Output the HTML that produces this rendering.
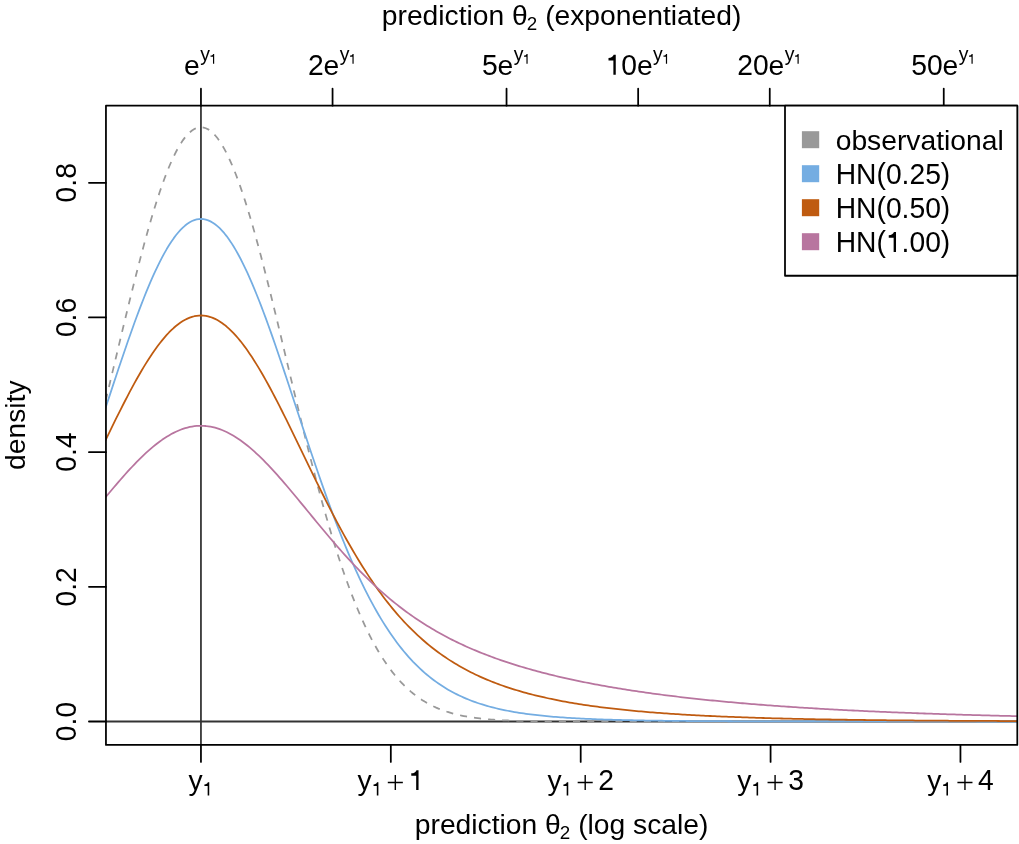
<!DOCTYPE html>
<html><head><meta charset="utf-8"><title>prediction density</title>
<style>html,body{margin:0;padding:0;background:#fff}svg{display:block;will-change:transform}text{font-family:"Liberation Sans",sans-serif;fill:#000}</style></head><body>
<svg width="1019" height="844" viewBox="0 0 1019 844">
<rect width="1019" height="844" fill="#fff"/>
<defs><clipPath id="c"><rect x="105.95" y="105.7" width="911.3499999999999" height="639.25"/></clipPath></defs>
<g clip-path="url(#c)" fill="none">
<line x1="105.95" x2="1017.3" y1="721.5" y2="721.5" stroke="#333333" stroke-width="1.76"/>
<line x1="200.95" x2="200.95" y1="105.7" y2="744.95" stroke="#333333" stroke-width="1.76"/>
<path d="M102.21,414.83 L104.52,405.33 L106.82,395.77 L109.12,386.17 L111.43,376.53 L113.73,366.86 L116.03,357.19 L118.34,347.53 L120.64,337.89 L122.94,328.28 L125.25,318.72 L127.55,309.22 L129.85,299.80 L132.16,290.48 L134.46,281.27 L136.76,272.19 L139.07,263.25 L141.37,254.47 L143.67,245.86 L145.98,237.45 L148.28,229.23 L150.58,221.24 L152.89,213.49 L155.19,205.98 L157.49,198.75 L159.80,191.79 L162.10,185.12 L164.40,178.76 L166.71,172.73 L169.01,167.02 L171.31,161.66 L173.62,156.65 L175.92,152.01 L178.22,147.74 L180.53,143.86 L182.83,140.37 L185.13,137.28 L187.44,134.60 L189.74,132.32 L192.04,130.47 L194.34,129.03 L196.65,128.02 L198.95,127.44 L201.25,127.28 L203.56,127.55 L205.86,128.25 L208.16,129.37 L210.47,130.92 L212.77,132.89 L215.07,135.27 L217.38,138.06 L219.68,141.26 L221.98,144.85 L224.29,148.84 L226.59,153.20 L228.89,157.94 L231.20,163.04 L233.50,168.50 L235.80,174.29 L238.11,180.42 L240.41,186.86 L242.71,193.60 L245.02,200.63 L247.32,207.94 L249.62,215.51 L251.93,223.33 L254.23,231.38 L256.53,239.65 L258.84,248.12 L261.14,256.78 L263.44,265.60 L265.75,274.58 L268.05,283.70 L270.35,292.94 L272.66,302.29 L274.96,311.72 L277.26,321.24 L279.56,330.81 L281.87,340.43 L284.17,350.08 L286.47,359.75 L288.78,369.42 L291.08,379.08 L293.38,388.71 L295.69,398.30 L297.99,407.85 L300.29,417.33 L302.60,426.73 L304.90,436.05 L307.20,445.28 L309.51,454.40 L311.81,463.40 L314.11,472.28 L316.42,481.03 L318.72,489.64 L321.02,498.10 L323.33,506.40 L325.63,514.55 L327.93,522.53 L330.24,530.34 L332.54,537.98 L334.84,545.44 L337.15,552.71 L339.45,559.81 L341.75,566.71 L344.06,573.43 L346.36,579.96 L348.66,586.30 L350.97,592.44 L353.27,598.40 L355.57,604.16 L357.88,609.74 L360.18,615.13 L362.48,620.33 L364.78,625.34 L367.09,630.18 L369.39,634.83 L371.69,639.30 L374.00,643.60 L376.30,647.73 L378.60,651.69 L380.91,655.49 L383.21,659.12 L385.51,662.59 L387.82,665.92 L390.12,669.09 L392.42,672.12 L394.73,675.00 L397.03,677.75 L399.33,680.37 L401.64,682.85 L403.94,685.22 L406.24,687.46 L408.55,689.59 L410.85,691.60 L413.15,693.51 L415.46,695.32 L417.76,697.02 L420.06,698.63 L422.37,700.16 L424.67,701.59 L426.97,702.94 L429.28,704.21 L431.58,705.41 L433.88,706.53 L436.19,707.59 L438.49,708.58 L440.79,709.51 L443.10,710.38 L445.40,711.19 L447.70,711.96 L450.01,712.67 L452.31,713.33 L454.61,713.95 L456.91,714.53 L459.22,715.07 L461.52,715.57 L463.82,716.03 L466.13,716.47 L468.43,716.87 L470.73,717.24 L473.04,717.59 L475.34,717.91 L477.64,718.20 L479.95,718.48 L482.25,718.73 L484.55,718.97 L486.86,719.18 L489.16,719.38 L491.46,719.56 L493.77,719.73 L496.07,719.89 L498.37,720.03 L500.68,720.16 L502.98,720.28 L505.28,720.39 L507.59,720.49 L509.89,720.58 L512.19,720.67 L514.50,720.75 L516.80,720.82 L519.10,720.88 L521.41,720.94 L523.71,720.99 L526.01,721.04 L528.32,721.09 L530.62,721.13 L532.92,721.16 L535.23,721.20 L537.53,721.23 L539.83,721.25 L542.13,721.28 L544.44,721.30 L546.74,721.32 L549.04,721.34 L551.35,721.36 L553.65,721.37 L555.95,721.39 L558.26,721.40 L560.56,721.41 L562.86,721.42 L565.17,721.43 L567.47,721.43 L569.77,721.44 L572.08,721.45 L574.38,721.45 L576.68,721.46 L578.99,721.46 L581.29,721.47 L583.59,721.47 L585.90,721.47 L588.20,721.48 L590.50,721.48 L592.81,721.48 L595.11,721.48 L597.41,721.49 L599.72,721.49 L602.02,721.49 L604.32,721.49 L606.63,721.49 L608.93,721.49 L611.23,721.49 L613.54,721.49 L615.84,721.49 L618.14,721.50 L620.45,721.50 L622.75,721.50 L625.05,721.50 L627.36,721.50 L629.66,721.50 L631.96,721.50 L634.26,721.50 L636.57,721.50 L638.87,721.50 L641.17,721.50 L643.48,721.50 L645.78,721.50 L648.08,721.50 L650.39,721.50 L652.69,721.50 L654.99,721.50 L657.30,721.50 L659.60,721.50 L661.90,721.50 L664.21,721.50 L666.51,721.50 L668.81,721.50 L671.12,721.50 L673.42,721.50 L675.72,721.50 L678.03,721.50 L680.33,721.50 L682.63,721.50 L684.94,721.50 L687.24,721.50 L689.54,721.50 L691.85,721.50 L694.15,721.50 L696.45,721.50 L698.76,721.50 L701.06,721.50 L703.36,721.50 L705.67,721.50 L707.97,721.50 L710.27,721.50 L712.58,721.50 L714.88,721.50 L717.18,721.50 L719.48,721.50 L721.79,721.50 L724.09,721.50 L726.39,721.50 L728.70,721.50 L731.00,721.50 L733.30,721.50 L735.61,721.50 L737.91,721.50 L740.21,721.50 L742.52,721.50 L744.82,721.50 L747.12,721.50 L749.43,721.50 L751.73,721.50 L754.03,721.50 L756.34,721.50 L758.64,721.50 L760.94,721.50 L763.25,721.50 L765.55,721.50 L767.85,721.50 L770.16,721.50 L772.46,721.50 L774.76,721.50 L777.07,721.50 L779.37,721.50 L781.67,721.50 L783.98,721.50 L786.28,721.50 L788.58,721.50 L790.89,721.50 L793.19,721.50 L795.49,721.50 L797.80,721.50 L800.10,721.50 L802.40,721.50 L804.70,721.50 L807.01,721.50 L809.31,721.50 L811.61,721.50 L813.92,721.50 L816.22,721.50 L818.52,721.50 L820.83,721.50 L823.13,721.50 L825.43,721.50 L827.74,721.50 L830.04,721.50 L832.34,721.50 L834.65,721.50 L836.95,721.50 L839.25,721.50 L841.56,721.50 L843.86,721.50 L846.16,721.50 L848.47,721.50 L850.77,721.50 L853.07,721.50 L855.38,721.50 L857.68,721.50 L859.98,721.50 L862.29,721.50 L864.59,721.50 L866.89,721.50 L869.20,721.50 L871.50,721.50 L873.80,721.50 L876.11,721.50 L878.41,721.50 L880.71,721.50 L883.02,721.50 L885.32,721.50 L887.62,721.50 L889.92,721.50 L892.23,721.50 L894.53,721.50 L896.83,721.50 L899.14,721.50 L901.44,721.50 L903.74,721.50 L906.05,721.50 L908.35,721.50 L910.65,721.50 L912.96,721.50 L915.26,721.50 L917.56,721.50 L919.87,721.50 L922.17,721.50 L924.47,721.50 L926.78,721.50 L929.08,721.50 L931.38,721.50 L933.69,721.50 L935.99,721.50 L938.29,721.50 L940.60,721.50 L942.90,721.50 L945.20,721.50 L947.51,721.50 L949.81,721.50 L952.11,721.50 L954.42,721.50 L956.72,721.50 L959.02,721.50 L961.33,721.50 L963.63,721.50 L965.93,721.50 L968.24,721.50 L970.54,721.50 L972.84,721.50 L975.15,721.50 L977.45,721.50 L979.75,721.50 L982.05,721.50 L984.36,721.50 L986.66,721.50 L988.96,721.50 L991.27,721.50 L993.57,721.50 L995.87,721.50 L998.18,721.50 L1000.48,721.50 L1002.78,721.50 L1005.09,721.50 L1007.39,721.50 L1009.69,721.50 L1012.00,721.50 L1014.30,721.50 L1016.60,721.50 L1018.91,721.50 L1021.21,721.50" stroke="#999999" stroke-width="1.76" stroke-dasharray="7.08 7.08" stroke-dashoffset="13.79"/>
<path d="M102.21,418.08 L104.52,411.09 L106.82,404.09 L109.12,397.10 L111.43,390.11 L113.73,383.15 L116.03,376.21 L118.34,369.31 L120.64,362.46 L122.94,355.66 L125.25,348.92 L127.55,342.26 L129.85,335.68 L132.16,329.19 L134.46,322.80 L136.76,316.52 L139.07,310.37 L141.37,304.34 L143.67,298.45 L145.98,292.70 L148.28,287.12 L150.58,281.70 L152.89,276.45 L155.19,271.38 L157.49,266.51 L159.80,261.83 L162.10,257.37 L164.40,253.11 L166.71,249.08 L169.01,245.28 L171.31,241.71 L173.62,238.38 L175.92,235.30 L178.22,232.47 L180.53,229.90 L182.83,227.60 L185.13,225.55 L187.44,223.78 L189.74,222.28 L192.04,221.06 L194.34,220.11 L196.65,219.45 L198.95,219.06 L201.25,218.96 L203.56,219.14 L205.86,219.60 L208.16,220.34 L210.47,221.36 L212.77,222.65 L215.07,224.22 L217.38,226.07 L219.68,228.18 L221.98,230.56 L224.29,233.20 L226.59,236.09 L228.89,239.24 L231.20,242.63 L233.50,246.26 L235.80,250.13 L238.11,254.22 L240.41,258.53 L242.71,263.05 L245.02,267.78 L247.32,272.70 L249.62,277.82 L251.93,283.11 L254.23,288.58 L256.53,294.21 L258.84,299.99 L261.14,305.92 L263.44,311.98 L265.75,318.17 L268.05,324.48 L270.35,330.89 L272.66,337.41 L274.96,344.01 L277.26,350.69 L279.56,357.45 L281.87,364.26 L284.17,371.13 L286.47,378.04 L288.78,384.99 L291.08,391.96 L293.38,398.94 L295.69,405.94 L297.99,412.94 L300.29,419.93 L302.60,426.91 L304.90,433.86 L307.20,440.78 L309.51,447.67 L311.81,454.52 L314.11,461.31 L316.42,468.05 L318.72,474.73 L321.02,481.34 L323.33,487.88 L325.63,494.34 L327.93,500.72 L330.24,507.01 L332.54,513.22 L334.84,519.33 L337.15,525.34 L339.45,531.26 L341.75,537.07 L344.06,542.77 L346.36,548.37 L348.66,553.86 L350.97,559.23 L353.27,564.50 L355.57,569.64 L357.88,574.68 L360.18,579.59 L362.48,584.39 L364.78,589.08 L367.09,593.65 L369.39,598.10 L371.69,602.43 L374.00,606.65 L376.30,610.75 L378.60,614.74 L380.91,618.62 L383.21,622.38 L385.51,626.03 L387.82,629.58 L390.12,633.01 L392.42,636.34 L394.73,639.56 L397.03,642.68 L399.33,645.70 L401.64,648.62 L403.94,651.44 L406.24,654.17 L408.55,656.80 L410.85,659.34 L413.15,661.80 L415.46,664.16 L417.76,666.44 L420.06,668.64 L422.37,670.76 L424.67,672.80 L426.97,674.77 L429.28,676.66 L431.58,678.48 L433.88,680.23 L436.19,681.91 L438.49,683.53 L440.79,685.08 L443.10,686.58 L445.40,688.01 L447.70,689.39 L450.01,690.72 L452.31,691.99 L454.61,693.20 L456.91,694.37 L459.22,695.50 L461.52,696.57 L463.82,697.60 L466.13,698.59 L468.43,699.54 L470.73,700.45 L473.04,701.32 L475.34,702.16 L477.64,702.96 L479.95,703.73 L482.25,704.46 L484.55,705.16 L486.86,705.84 L489.16,706.48 L491.46,707.10 L493.77,707.70 L496.07,708.26 L498.37,708.81 L500.68,709.33 L502.98,709.83 L505.28,710.30 L507.59,710.76 L509.89,711.20 L512.19,711.62 L514.50,712.02 L516.80,712.40 L519.10,712.77 L521.41,713.13 L523.71,713.46 L526.01,713.79 L528.32,714.10 L530.62,714.40 L532.92,714.68 L535.23,714.95 L537.53,715.22 L539.83,715.47 L542.13,715.71 L544.44,715.94 L546.74,716.16 L549.04,716.37 L551.35,716.57 L553.65,716.77 L555.95,716.95 L558.26,717.13 L560.56,717.30 L562.86,717.47 L565.17,717.63 L567.47,717.78 L569.77,717.92 L572.08,718.06 L574.38,718.20 L576.68,718.32 L578.99,718.45 L581.29,718.57 L583.59,718.68 L585.90,718.79 L588.20,718.89 L590.50,718.99 L592.81,719.09 L595.11,719.18 L597.41,719.27 L599.72,719.36 L602.02,719.44 L604.32,719.52 L606.63,719.59 L608.93,719.66 L611.23,719.73 L613.54,719.80 L615.84,719.87 L618.14,719.93 L620.45,719.99 L622.75,720.04 L625.05,720.10 L627.36,720.15 L629.66,720.20 L631.96,720.25 L634.26,720.30 L636.57,720.34 L638.87,720.39 L641.17,720.43 L643.48,720.47 L645.78,720.51 L648.08,720.55 L650.39,720.58 L652.69,720.62 L654.99,720.65 L657.30,720.68 L659.60,720.71 L661.90,720.74 L664.21,720.77 L666.51,720.80 L668.81,720.82 L671.12,720.85 L673.42,720.87 L675.72,720.90 L678.03,720.92 L680.33,720.94 L682.63,720.96 L684.94,720.98 L687.24,721.00 L689.54,721.02 L691.85,721.04 L694.15,721.05 L696.45,721.07 L698.76,721.09 L701.06,721.10 L703.36,721.12 L705.67,721.13 L707.97,721.14 L710.27,721.16 L712.58,721.17 L714.88,721.18 L717.18,721.19 L719.48,721.20 L721.79,721.21 L724.09,721.23 L726.39,721.24 L728.70,721.25 L731.00,721.25 L733.30,721.26 L735.61,721.27 L737.91,721.28 L740.21,721.29 L742.52,721.30 L744.82,721.30 L747.12,721.31 L749.43,721.32 L751.73,721.32 L754.03,721.33 L756.34,721.34 L758.64,721.34 L760.94,721.35 L763.25,721.35 L765.55,721.36 L767.85,721.36 L770.16,721.37 L772.46,721.37 L774.76,721.38 L777.07,721.38 L779.37,721.39 L781.67,721.39 L783.98,721.40 L786.28,721.40 L788.58,721.40 L790.89,721.41 L793.19,721.41 L795.49,721.41 L797.80,721.42 L800.10,721.42 L802.40,721.42 L804.70,721.42 L807.01,721.43 L809.31,721.43 L811.61,721.43 L813.92,721.44 L816.22,721.44 L818.52,721.44 L820.83,721.44 L823.13,721.44 L825.43,721.45 L827.74,721.45 L830.04,721.45 L832.34,721.45 L834.65,721.45 L836.95,721.46 L839.25,721.46 L841.56,721.46 L843.86,721.46 L846.16,721.46 L848.47,721.46 L850.77,721.46 L853.07,721.47 L855.38,721.47 L857.68,721.47 L859.98,721.47 L862.29,721.47 L864.59,721.47 L866.89,721.47 L869.20,721.47 L871.50,721.47 L873.80,721.48 L876.11,721.48 L878.41,721.48 L880.71,721.48 L883.02,721.48 L885.32,721.48 L887.62,721.48 L889.92,721.48 L892.23,721.48 L894.53,721.48 L896.83,721.48 L899.14,721.48 L901.44,721.48 L903.74,721.48 L906.05,721.49 L908.35,721.49 L910.65,721.49 L912.96,721.49 L915.26,721.49 L917.56,721.49 L919.87,721.49 L922.17,721.49 L924.47,721.49 L926.78,721.49 L929.08,721.49 L931.38,721.49 L933.69,721.49 L935.99,721.49 L938.29,721.49 L940.60,721.49 L942.90,721.49 L945.20,721.49 L947.51,721.49 L949.81,721.49 L952.11,721.49 L954.42,721.49 L956.72,721.49 L959.02,721.49 L961.33,721.49 L963.63,721.49 L965.93,721.49 L968.24,721.49 L970.54,721.49 L972.84,721.49 L975.15,721.49 L977.45,721.50 L979.75,721.50 L982.05,721.50 L984.36,721.50 L986.66,721.50 L988.96,721.50 L991.27,721.50 L993.57,721.50 L995.87,721.50 L998.18,721.50 L1000.48,721.50 L1002.78,721.50 L1005.09,721.50 L1007.39,721.50 L1009.69,721.50 L1012.00,721.50 L1014.30,721.50 L1016.60,721.50 L1018.91,721.50 L1021.21,721.50" stroke="#74ADE2" stroke-width="1.76" stroke-linejoin="round"/>
<path d="M102.21,447.07 L104.52,442.30 L106.82,437.55 L109.12,432.81 L111.43,428.09 L113.73,423.39 L116.03,418.73 L118.34,414.10 L120.64,409.52 L122.94,404.98 L125.25,400.49 L127.55,396.06 L129.85,391.69 L132.16,387.40 L134.46,383.18 L136.76,379.03 L139.07,374.98 L141.37,371.01 L143.67,367.15 L145.98,363.38 L148.28,359.72 L150.58,356.18 L152.89,352.75 L155.19,349.45 L157.49,346.28 L159.80,343.23 L162.10,340.33 L164.40,337.57 L166.71,334.95 L169.01,332.49 L171.31,330.18 L173.62,328.02 L175.92,326.03 L178.22,324.20 L180.53,322.54 L182.83,321.05 L185.13,319.73 L187.44,318.59 L189.74,317.62 L192.04,316.84 L194.34,316.23 L196.65,315.80 L198.95,315.55 L201.25,315.48 L203.56,315.60 L205.86,315.89 L208.16,316.37 L210.47,317.03 L212.77,317.86 L215.07,318.88 L217.38,320.07 L219.68,321.43 L221.98,322.97 L224.29,324.67 L226.59,326.54 L228.89,328.58 L231.20,330.77 L233.50,333.12 L235.80,335.63 L238.11,338.28 L240.41,341.08 L242.71,344.03 L245.02,347.10 L247.32,350.31 L249.62,353.65 L251.93,357.11 L254.23,360.68 L256.53,364.37 L258.84,368.16 L261.14,372.05 L263.44,376.04 L265.75,380.12 L268.05,384.28 L270.35,388.53 L272.66,392.84 L274.96,397.23 L277.26,401.67 L279.56,406.17 L281.87,410.73 L284.17,415.32 L286.47,419.96 L288.78,424.63 L291.08,429.33 L293.38,434.06 L295.69,438.80 L297.99,443.56 L300.29,448.33 L302.60,453.10 L304.90,457.87 L307.20,462.63 L309.51,467.39 L311.81,472.13 L314.11,476.86 L316.42,481.56 L318.72,486.23 L321.02,490.88 L323.33,495.50 L325.63,500.07 L327.93,504.61 L330.24,509.11 L332.54,513.57 L334.84,517.97 L337.15,522.33 L339.45,526.63 L341.75,530.88 L344.06,535.08 L346.36,539.21 L348.66,543.29 L350.97,547.31 L353.27,551.26 L355.57,555.15 L357.88,558.98 L360.18,562.74 L362.48,566.43 L364.78,570.06 L367.09,573.63 L369.39,577.12 L371.69,580.55 L374.00,583.91 L376.30,587.20 L378.60,590.42 L380.91,593.58 L383.21,596.67 L385.51,599.69 L387.82,602.65 L390.12,605.54 L392.42,608.37 L394.73,611.13 L397.03,613.82 L399.33,616.46 L401.64,619.03 L403.94,621.54 L406.24,623.99 L408.55,626.38 L410.85,628.71 L413.15,630.98 L415.46,633.20 L417.76,635.36 L420.06,637.46 L422.37,639.51 L424.67,641.51 L426.97,643.46 L429.28,645.36 L431.58,647.21 L433.88,649.01 L436.19,650.77 L438.49,652.48 L440.79,654.14 L443.10,655.76 L445.40,657.34 L447.70,658.87 L450.01,660.37 L452.31,661.82 L454.61,663.24 L456.91,664.62 L459.22,665.97 L461.52,667.27 L463.82,668.55 L466.13,669.79 L468.43,671.00 L470.73,672.17 L473.04,673.32 L475.34,674.44 L477.64,675.52 L479.95,676.58 L482.25,677.61 L484.55,678.62 L486.86,679.60 L489.16,680.55 L491.46,681.48 L493.77,682.38 L496.07,683.27 L498.37,684.12 L500.68,684.96 L502.98,685.78 L505.28,686.58 L507.59,687.35 L509.89,688.11 L512.19,688.85 L514.50,689.57 L516.80,690.27 L519.10,690.96 L521.41,691.62 L523.71,692.28 L526.01,692.91 L528.32,693.53 L530.62,694.14 L532.92,694.73 L535.23,695.31 L537.53,695.87 L539.83,696.42 L542.13,696.96 L544.44,697.48 L546.74,697.99 L549.04,698.49 L551.35,698.98 L553.65,699.46 L555.95,699.93 L558.26,700.38 L560.56,700.83 L562.86,701.26 L565.17,701.69 L567.47,702.10 L569.77,702.51 L572.08,702.90 L574.38,703.29 L576.68,703.67 L578.99,704.04 L581.29,704.40 L583.59,704.76 L585.90,705.10 L588.20,705.44 L590.50,705.77 L592.81,706.10 L595.11,706.41 L597.41,706.72 L599.72,707.02 L602.02,707.32 L604.32,707.61 L606.63,707.89 L608.93,708.17 L611.23,708.44 L613.54,708.71 L615.84,708.97 L618.14,709.22 L620.45,709.47 L622.75,709.72 L625.05,709.95 L627.36,710.19 L629.66,710.41 L631.96,710.64 L634.26,710.86 L636.57,711.07 L638.87,711.28 L641.17,711.49 L643.48,711.69 L645.78,711.88 L648.08,712.08 L650.39,712.26 L652.69,712.45 L654.99,712.63 L657.30,712.81 L659.60,712.98 L661.90,713.15 L664.21,713.31 L666.51,713.48 L668.81,713.64 L671.12,713.79 L673.42,713.94 L675.72,714.09 L678.03,714.24 L680.33,714.38 L682.63,714.52 L684.94,714.66 L687.24,714.80 L689.54,714.93 L691.85,715.06 L694.15,715.19 L696.45,715.31 L698.76,715.43 L701.06,715.55 L703.36,715.67 L705.67,715.78 L707.97,715.89 L710.27,716.00 L712.58,716.11 L714.88,716.22 L717.18,716.32 L719.48,716.42 L721.79,716.52 L724.09,716.62 L726.39,716.71 L728.70,716.80 L731.00,716.90 L733.30,716.99 L735.61,717.07 L737.91,717.16 L740.21,717.24 L742.52,717.33 L744.82,717.41 L747.12,717.49 L749.43,717.56 L751.73,717.64 L754.03,717.71 L756.34,717.79 L758.64,717.86 L760.94,717.93 L763.25,718.00 L765.55,718.07 L767.85,718.13 L770.16,718.20 L772.46,718.26 L774.76,718.32 L777.07,718.38 L779.37,718.44 L781.67,718.50 L783.98,718.56 L786.28,718.62 L788.58,718.67 L790.89,718.73 L793.19,718.78 L795.49,718.83 L797.80,718.88 L800.10,718.93 L802.40,718.98 L804.70,719.03 L807.01,719.08 L809.31,719.12 L811.61,719.17 L813.92,719.21 L816.22,719.26 L818.52,719.30 L820.83,719.34 L823.13,719.38 L825.43,719.42 L827.74,719.46 L830.04,719.50 L832.34,719.54 L834.65,719.58 L836.95,719.61 L839.25,719.65 L841.56,719.68 L843.86,719.72 L846.16,719.75 L848.47,719.79 L850.77,719.82 L853.07,719.85 L855.38,719.88 L857.68,719.91 L859.98,719.94 L862.29,719.97 L864.59,720.00 L866.89,720.03 L869.20,720.06 L871.50,720.08 L873.80,720.11 L876.11,720.14 L878.41,720.16 L880.71,720.19 L883.02,720.21 L885.32,720.24 L887.62,720.26 L889.92,720.28 L892.23,720.31 L894.53,720.33 L896.83,720.35 L899.14,720.37 L901.44,720.39 L903.74,720.42 L906.05,720.44 L908.35,720.46 L910.65,720.48 L912.96,720.49 L915.26,720.51 L917.56,720.53 L919.87,720.55 L922.17,720.57 L924.47,720.59 L926.78,720.60 L929.08,720.62 L931.38,720.64 L933.69,720.65 L935.99,720.67 L938.29,720.68 L940.60,720.70 L942.90,720.71 L945.20,720.73 L947.51,720.74 L949.81,720.76 L952.11,720.77 L954.42,720.78 L956.72,720.80 L959.02,720.81 L961.33,720.82 L963.63,720.84 L965.93,720.85 L968.24,720.86 L970.54,720.87 L972.84,720.88 L975.15,720.90 L977.45,720.91 L979.75,720.92 L982.05,720.93 L984.36,720.94 L986.66,720.95 L988.96,720.96 L991.27,720.97 L993.57,720.98 L995.87,720.99 L998.18,721.00 L1000.48,721.01 L1002.78,721.02 L1005.09,721.03 L1007.39,721.04 L1009.69,721.04 L1012.00,721.05 L1014.30,721.06 L1016.60,721.07 L1018.91,721.08 L1021.21,721.09" stroke="#BF5B10" stroke-width="1.76" stroke-linejoin="round"/>
<path d="M102.21,501.34 L104.52,498.55 L106.82,495.77 L109.12,493.00 L111.43,490.25 L113.73,487.53 L116.03,484.82 L118.34,482.14 L120.64,479.48 L122.94,476.86 L125.25,474.27 L127.55,471.71 L129.85,469.20 L132.16,466.73 L134.46,464.31 L136.76,461.93 L139.07,459.61 L141.37,457.34 L143.67,455.13 L145.98,452.97 L148.28,450.89 L150.58,448.87 L152.89,446.91 L155.19,445.03 L157.49,443.23 L159.80,441.50 L162.10,439.85 L164.40,438.28 L166.71,436.79 L169.01,435.40 L171.31,434.09 L173.62,432.86 L175.92,431.74 L178.22,430.70 L180.53,429.76 L182.83,428.92 L185.13,428.17 L187.44,427.53 L189.74,426.98 L192.04,426.53 L194.34,426.19 L196.65,425.95 L198.95,425.81 L201.25,425.77 L203.56,425.83 L205.86,426.00 L208.16,426.27 L210.47,426.64 L212.77,427.11 L215.07,427.69 L217.38,428.36 L219.68,429.13 L221.98,430.00 L224.29,430.97 L226.59,432.03 L228.89,433.18 L231.20,434.42 L233.50,435.76 L235.80,437.18 L238.11,438.69 L240.41,440.28 L242.71,441.95 L245.02,443.70 L247.32,445.52 L249.62,447.42 L251.93,449.39 L254.23,451.43 L256.53,453.54 L258.84,455.70 L261.14,457.93 L263.44,460.22 L265.75,462.55 L268.05,464.94 L270.35,467.38 L272.66,469.86 L274.96,472.39 L277.26,474.95 L279.56,477.55 L281.87,480.18 L284.17,482.84 L286.47,485.53 L288.78,488.24 L291.08,490.98 L293.38,493.73 L295.69,496.50 L297.99,499.28 L300.29,502.08 L302.60,504.87 L304.90,507.68 L307.20,510.49 L309.51,513.29 L311.81,516.10 L314.11,518.90 L316.42,521.70 L318.72,524.48 L321.02,527.26 L323.33,530.02 L325.63,532.77 L327.93,535.50 L330.24,538.22 L332.54,540.91 L334.84,543.59 L337.15,546.24 L339.45,548.87 L341.75,551.47 L344.06,554.05 L346.36,556.60 L348.66,559.12 L350.97,561.62 L353.27,564.08 L355.57,566.51 L357.88,568.92 L360.18,571.29 L362.48,573.63 L364.78,575.93 L367.09,578.21 L369.39,580.45 L371.69,582.65 L374.00,584.82 L376.30,586.96 L378.60,589.07 L380.91,591.14 L383.21,593.17 L385.51,595.18 L387.82,597.14 L390.12,599.08 L392.42,600.98 L394.73,602.85 L397.03,604.68 L399.33,606.49 L401.64,608.26 L403.94,609.99 L406.24,611.70 L408.55,613.38 L410.85,615.02 L413.15,616.63 L415.46,618.22 L417.76,619.77 L420.06,621.29 L422.37,622.79 L424.67,624.26 L426.97,625.70 L429.28,627.11 L431.58,628.50 L433.88,629.86 L436.19,631.19 L438.49,632.50 L440.79,633.79 L443.10,635.05 L445.40,636.28 L447.70,637.50 L450.01,638.69 L452.31,639.86 L454.61,641.00 L456.91,642.13 L459.22,643.24 L461.52,644.32 L463.82,645.39 L466.13,646.43 L468.43,647.46 L470.73,648.47 L473.04,649.46 L475.34,650.43 L477.64,651.39 L479.95,652.32 L482.25,653.25 L484.55,654.15 L486.86,655.04 L489.16,655.92 L491.46,656.78 L493.77,657.63 L496.07,658.46 L498.37,659.28 L500.68,660.08 L502.98,660.87 L505.28,661.65 L507.59,662.41 L509.89,663.17 L512.19,663.91 L514.50,664.63 L516.80,665.35 L519.10,666.06 L521.41,666.75 L523.71,667.44 L526.01,668.11 L528.32,668.77 L530.62,669.42 L532.92,670.07 L535.23,670.70 L537.53,671.32 L539.83,671.94 L542.13,672.54 L544.44,673.14 L546.74,673.72 L549.04,674.30 L551.35,674.87 L553.65,675.43 L555.95,675.99 L558.26,676.53 L560.56,677.07 L562.86,677.60 L565.17,678.12 L567.47,678.64 L569.77,679.14 L572.08,679.64 L574.38,680.14 L576.68,680.63 L578.99,681.11 L581.29,681.58 L583.59,682.05 L585.90,682.51 L588.20,682.96 L590.50,683.41 L592.81,683.85 L595.11,684.29 L597.41,684.72 L599.72,685.14 L602.02,685.56 L604.32,685.98 L606.63,686.38 L608.93,686.79 L611.23,687.18 L613.54,687.58 L615.84,687.96 L618.14,688.35 L620.45,688.72 L622.75,689.09 L625.05,689.46 L627.36,689.82 L629.66,690.18 L631.96,690.54 L634.26,690.89 L636.57,691.23 L638.87,691.57 L641.17,691.91 L643.48,692.24 L645.78,692.56 L648.08,692.89 L650.39,693.21 L652.69,693.52 L654.99,693.83 L657.30,694.14 L659.60,694.45 L661.90,694.75 L664.21,695.04 L666.51,695.33 L668.81,695.62 L671.12,695.91 L673.42,696.19 L675.72,696.47 L678.03,696.75 L680.33,697.02 L682.63,697.29 L684.94,697.55 L687.24,697.81 L689.54,698.07 L691.85,698.33 L694.15,698.58 L696.45,698.83 L698.76,699.08 L701.06,699.32 L703.36,699.56 L705.67,699.80 L707.97,700.04 L710.27,700.27 L712.58,700.50 L714.88,700.72 L717.18,700.95 L719.48,701.17 L721.79,701.39 L724.09,701.61 L726.39,701.82 L728.70,702.03 L731.00,702.24 L733.30,702.45 L735.61,702.65 L737.91,702.85 L740.21,703.05 L742.52,703.25 L744.82,703.44 L747.12,703.64 L749.43,703.83 L751.73,704.02 L754.03,704.20 L756.34,704.39 L758.64,704.57 L760.94,704.75 L763.25,704.92 L765.55,705.10 L767.85,705.27 L770.16,705.45 L772.46,705.62 L774.76,705.78 L777.07,705.95 L779.37,706.11 L781.67,706.27 L783.98,706.44 L786.28,706.59 L788.58,706.75 L790.89,706.91 L793.19,707.06 L795.49,707.21 L797.80,707.36 L800.10,707.51 L802.40,707.65 L804.70,707.80 L807.01,707.94 L809.31,708.08 L811.61,708.22 L813.92,708.36 L816.22,708.50 L818.52,708.63 L820.83,708.77 L823.13,708.90 L825.43,709.03 L827.74,709.16 L830.04,709.29 L832.34,709.42 L834.65,709.54 L836.95,709.67 L839.25,709.79 L841.56,709.91 L843.86,710.03 L846.16,710.15 L848.47,710.26 L850.77,710.38 L853.07,710.50 L855.38,710.61 L857.68,710.72 L859.98,710.83 L862.29,710.94 L864.59,711.05 L866.89,711.16 L869.20,711.26 L871.50,711.37 L873.80,711.47 L876.11,711.58 L878.41,711.68 L880.71,711.78 L883.02,711.88 L885.32,711.98 L887.62,712.07 L889.92,712.17 L892.23,712.26 L894.53,712.36 L896.83,712.45 L899.14,712.54 L901.44,712.64 L903.74,712.73 L906.05,712.82 L908.35,712.90 L910.65,712.99 L912.96,713.08 L915.26,713.16 L917.56,713.25 L919.87,713.33 L922.17,713.41 L924.47,713.50 L926.78,713.58 L929.08,713.66 L931.38,713.74 L933.69,713.82 L935.99,713.89 L938.29,713.97 L940.60,714.05 L942.90,714.12 L945.20,714.20 L947.51,714.27 L949.81,714.34 L952.11,714.42 L954.42,714.49 L956.72,714.56 L959.02,714.63 L961.33,714.70 L963.63,714.76 L965.93,714.83 L968.24,714.90 L970.54,714.97 L972.84,715.03 L975.15,715.10 L977.45,715.16 L979.75,715.22 L982.05,715.29 L984.36,715.35 L986.66,715.41 L988.96,715.47 L991.27,715.53 L993.57,715.59 L995.87,715.65 L998.18,715.71 L1000.48,715.77 L1002.78,715.82 L1005.09,715.88 L1007.39,715.94 L1009.69,715.99 L1012.00,716.05 L1014.30,716.10 L1016.60,716.16 L1018.91,716.21 L1021.21,716.26" stroke="#B8759F" stroke-width="1.76" stroke-linejoin="round"/>
</g>
<g stroke="#000" stroke-width="1.76" fill="none" stroke-linecap="round" stroke-linejoin="round">
<rect x="105.95" y="105.7" width="911.3499999999999" height="639.25"/>
<line x1="200.95" x2="200.95" y1="744.95" y2="761.95"/>
<line x1="390.82" x2="390.82" y1="744.95" y2="761.95"/>
<line x1="580.70" x2="580.70" y1="744.95" y2="761.95"/>
<line x1="770.58" x2="770.58" y1="744.95" y2="761.95"/>
<line x1="960.45" x2="960.45" y1="744.95" y2="761.95"/>
<line x1="200.95" x2="200.95" y1="105.7" y2="88.7"/>
<line x1="332.56" x2="332.56" y1="105.7" y2="88.7"/>
<line x1="506.54" x2="506.54" y1="105.7" y2="88.7"/>
<line x1="638.15" x2="638.15" y1="105.7" y2="88.7"/>
<line x1="769.76" x2="769.76" y1="105.7" y2="88.7"/>
<line x1="943.75" x2="943.75" y1="105.7" y2="88.7"/>
<line x1="105.95" x2="88.95" y1="721.50" y2="721.50"/>
<line x1="105.95" x2="88.95" y1="586.82" y2="586.82"/>
<line x1="105.95" x2="88.95" y1="452.14" y2="452.14"/>
<line x1="105.95" x2="88.95" y1="317.46" y2="317.46"/>
<line x1="105.95" x2="88.95" y1="182.78" y2="182.78"/>
</g>
<rect x="785.0" y="105.7" width="232.29999999999995" height="170.05" fill="#fff" stroke="#000" stroke-width="1.76" stroke-linejoin="round"/>
<rect x="801.9" y="131.20" width="17.3" height="17" fill="#999999"/>
<text x="835.70" y="149.90" font-size="28.25" text-anchor="start">observational</text>
<rect x="801.9" y="165.20" width="17.3" height="17" fill="#74ADE2"/>
<text transform="translate(835.70 183.90) scale(1 1.04)" font-size="28.25" text-anchor="start">HN(0.25)</text>
<rect x="801.9" y="199.20" width="17.3" height="17" fill="#BF5B10"/>
<text transform="translate(835.70 217.90) scale(1 1.04)" font-size="28.25" text-anchor="start">HN(0.50)</text>
<rect x="801.9" y="233.20" width="17.3" height="17" fill="#B8759F"/>
<text transform="translate(835.70 251.90) scale(1 1.04)" font-size="28.25" text-anchor="start">HN(</text><path d="M896.01,251.90 L896.01,232.04 L893.95,232.04 C893.30,234.10 891.55,235.20 888.75,235.20 L888.75,237.69 L893.64,237.69 L893.64,251.90 Z" fill="#000"/><text transform="translate(901.61 251.90) scale(1 1.04)" font-size="28.25" text-anchor="start">.00)</text>
<text x="188.39" y="790.05" font-size="28.25" text-anchor="start">y</text>
<path d="M209.24,795.50 L209.24,782.28 L207.87,782.28 C207.44,783.66 206.27,784.39 204.41,784.39 L204.41,786.04 L207.66,786.04 L207.66,795.50 Z" fill="#000"/>
<text x="357.52" y="790.05" font-size="28.25" text-anchor="start">y</text>
<path d="M378.39,795.50 L378.39,782.28 L377.01,782.28 C376.58,783.66 375.41,784.39 373.55,784.39 L373.55,786.04 L376.81,786.04 L376.81,795.50 Z" fill="#000"/>
<path d="M387.80,782.52 H402.85 M395.32,774.99 V790.05" stroke="#000" stroke-width="1.4" fill="none"/>
<path d="M418.54,790.05 L418.54,770.19 L416.48,770.19 C415.83,772.25 414.07,773.35 411.28,773.35 L411.28,775.84 L416.17,775.84 L416.17,790.05 Z" fill="#000"/>
<text x="547.40" y="790.05" font-size="28.25" text-anchor="start">y</text>
<path d="M568.26,795.50 L568.26,782.28 L566.89,782.28 C566.46,783.66 565.29,784.39 563.43,784.39 L563.43,786.04 L566.68,786.04 L566.68,795.50 Z" fill="#000"/>
<path d="M577.67,782.52 H592.73 M585.20,774.99 V790.05" stroke="#000" stroke-width="1.4" fill="none"/>
<text transform="translate(598.30 790.05) scale(1 1.04)" font-size="28.25" text-anchor="start">2</text>
<text x="737.28" y="790.05" font-size="28.25" text-anchor="start">y</text>
<path d="M758.14,795.50 L758.14,782.28 L756.76,782.28 C756.33,783.66 755.17,784.39 753.30,784.39 L753.30,786.04 L756.56,786.04 L756.56,795.50 Z" fill="#000"/>
<path d="M767.55,782.52 H782.61 M775.08,774.99 V790.05" stroke="#000" stroke-width="1.4" fill="none"/>
<text transform="translate(788.18 790.05) scale(1 1.04)" font-size="28.25" text-anchor="start">3</text>
<text x="927.15" y="790.05" font-size="28.25" text-anchor="start">y</text>
<path d="M948.01,795.50 L948.01,782.28 L946.64,782.28 C946.21,783.66 945.04,784.39 943.18,784.39 L943.18,786.04 L946.43,786.04 L946.43,795.50 Z" fill="#000"/>
<path d="M957.42,782.52 H972.48 M964.95,774.99 V790.05" stroke="#000" stroke-width="1.4" fill="none"/>
<text transform="translate(978.05 790.05) scale(1 1.04)" font-size="28.25" text-anchor="start">4</text>
<text x="184.05" y="74.70" font-size="28.25" text-anchor="start">e</text>
<text x="200.20" y="60.75" font-size="19.4" text-anchor="start">y</text>
<path d="M214.18,63.87 L214.18,53.96 L213.15,53.96 C212.82,54.99 211.95,55.54 210.55,55.54 L210.55,56.78 L212.99,56.78 L212.99,63.87 Z" fill="#000"/>
<text transform="translate(307.91 74.70) scale(1 1.04)" font-size="28.25" text-anchor="start">2</text>
<text x="323.51" y="74.70" font-size="28.25" text-anchor="start">e</text>
<text x="339.66" y="60.75" font-size="19.4" text-anchor="start">y</text>
<path d="M353.64,63.87 L353.64,53.96 L352.61,53.96 C352.29,54.99 351.41,55.54 350.02,55.54 L350.02,56.78 L352.46,56.78 L352.46,63.87 Z" fill="#000"/>
<text transform="translate(481.89 74.70) scale(1 1.04)" font-size="28.25" text-anchor="start">5</text>
<text x="497.49" y="74.70" font-size="28.25" text-anchor="start">e</text>
<text x="513.64" y="60.75" font-size="19.4" text-anchor="start">y</text>
<path d="M527.62,63.87 L527.62,53.96 L526.59,53.96 C526.27,54.99 525.39,55.54 524.00,55.54 L524.00,56.78 L526.44,56.78 L526.44,63.87 Z" fill="#000"/>
<path d="M615.76,74.70 L615.76,54.84 L613.69,54.84 C613.04,56.90 611.29,58.00 608.50,58.00 L608.50,60.49 L613.38,60.49 L613.38,74.70 Z" fill="#000"/><text transform="translate(621.35 74.70) scale(1 1.04)" font-size="28.25" text-anchor="start">0</text>
<text x="636.96" y="74.70" font-size="28.25" text-anchor="start">e</text>
<text x="653.11" y="60.75" font-size="19.4" text-anchor="start">y</text>
<path d="M667.09,63.87 L667.09,53.96 L666.06,53.96 C665.73,54.99 664.86,55.54 663.46,55.54 L663.46,56.78 L665.90,56.78 L665.90,63.87 Z" fill="#000"/>
<text transform="translate(737.25 74.70) scale(1 1.04)" font-size="28.25" text-anchor="start">20</text>
<text x="768.57" y="74.70" font-size="28.25" text-anchor="start">e</text>
<text x="784.72" y="60.75" font-size="19.4" text-anchor="start">y</text>
<path d="M798.70,63.87 L798.70,53.96 L797.67,53.96 C797.34,54.99 796.47,55.54 795.07,55.54 L795.07,56.78 L797.51,56.78 L797.51,63.87 Z" fill="#000"/>
<text transform="translate(911.24 74.70) scale(1 1.04)" font-size="28.25" text-anchor="start">50</text>
<text x="942.55" y="74.70" font-size="28.25" text-anchor="start">e</text>
<text x="958.70" y="60.75" font-size="19.4" text-anchor="start">y</text>
<path d="M972.68,63.87 L972.68,53.96 L971.65,53.96 C971.32,54.99 970.45,55.54 969.05,55.54 L969.05,56.78 L971.49,56.78 L971.49,63.87 Z" fill="#000"/>
<text transform="translate(75.6 721.50) rotate(-90) scale(1 1.07)" font-size="28.25" text-anchor="middle">0.0</text>
<text transform="translate(75.6 586.82) rotate(-90) scale(1 1.07)" font-size="28.25" text-anchor="middle">0.2</text>
<text transform="translate(75.6 452.14) rotate(-90) scale(1 1.07)" font-size="28.25" text-anchor="middle">0.4</text>
<text transform="translate(75.6 317.46) rotate(-90) scale(1 1.07)" font-size="28.25" text-anchor="middle">0.6</text>
<text transform="translate(75.6 182.78) rotate(-90) scale(1 1.07)" font-size="28.25" text-anchor="middle">0.8</text>
<text transform="translate(24.9 425.25) rotate(-90)" font-size="28.25" text-anchor="middle">density</text>
<text x="561.62" y="24.6" font-size="28.25" text-anchor="middle">prediction θ<tspan font-size="18.8" dy="5.1" dx="-1">2</tspan><tspan dy="-5.1"> (exponentiated)</tspan></text>
<text x="561.62" y="833.9" font-size="28.25" text-anchor="middle">prediction θ<tspan font-size="18.8" dy="5.1" dx="-1">2</tspan><tspan dy="-5.1"> (log scale)</tspan></text>
</svg></body></html>
